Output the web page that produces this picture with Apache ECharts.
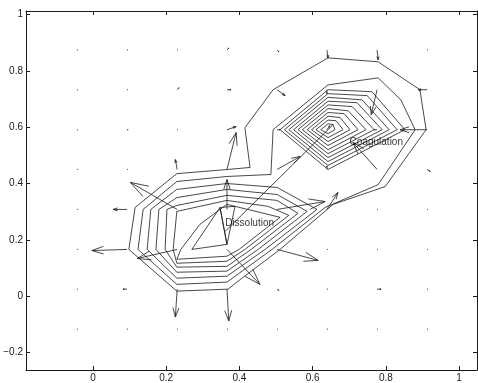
<!DOCTYPE html>
<html><head><meta charset="utf-8">
<script src="https://cdn.jsdelivr.net/npm/echarts@6/dist/echarts.min.js"></script>
<style>html,body{margin:0;padding:0;background:#fff}#c{width:478px;height:383px}</style>
</head><body><div id="c"></div>
<script>
// Axis ticks
const xTicks = [0, 0.2, 0.4, 0.6, 0.8, 1];
const yTicks = [-0.2, 0, 0.2, 0.4, 0.6, 0.8, 1];

// Quiver grid nodes
const gridX = [-0.044, 0.093, 0.230, 0.366, 0.503, 0.639, 0.776, 0.913];
const gridY = [0.874, 0.733, 0.591, 0.450, 0.308, 0.166, 0.025, -0.117];

// Vector components on the grid (row by row, top row first): [u, v]
const vecRow0 = [[0.002,0],[0.002,0],[0.002,0],[0.005,0.007],[0.005,-0.007],[0.003,-0.028],[0.003,-0.035],[0.002,0]];
const vecRow1 = [[0.002,0],[0.002,0],[0.005,0.007],[0.011,0],[0.022,-0.021],[0,-0.014],[-0.016,-0.089],[-0.025,0]];
const vecRow2 = [[0.002,0],[0.003,0],[0.002,0],[0.025,0.011],[0.008,0],[0.008,0.014],[-0.008,0],[-0.074,0]];
const vecRow3 = [[0.002,0],[0.002,0],[-0.005,0.035],[0.025,0.131],[0.063,0.046],[0,0.012],[-0.066,0.096],[0.008,-0.007]];
const vecRow4 = [[0.002,0],[-0.038,0],[-0.128,0.096],[0,0.106],[0.131,0.028],[0.030,0.060],[0.002,0],[0.002,0]];
const vecRow5 = [[0.002,0],[-0.096,-0.004],[-0.109,-0.032],[0.090,-0.124],[0.112,-0.039],[0.002,0],[0.002,0],[0.002,0]];
const vecRow6 = [[0.002,0],[-0.011,0],[-0.005,-0.099],[0.005,-0.113],[0.005,-0.005],[0.002,0],[0.011,0],[0.002,0]];
const vecRow7 = [[0.002,0],[0.002,0],[0.002,0],[0.002,0],[0.002,0],[0.002,0],[0.002,0],[0.002,0]];
const vecRows = [vecRow0, vecRow1, vecRow2, vecRow3, vecRow4, vecRow5, vecRow6, vecRow7];

// Contour lines: the two outer levels surround both regions
const levelOuter = [[0.369,0.450],[0.429,0.457],[0.415,0.598],[0.492,0.733],[0.642,0.846],[0.779,0.832],[0.893,0.733],[0.910,0.591],[0.798,0.389],[0.656,0.326],[0.511,0.166],[0.396,0.053],[0.369,0.025],[0.229,0.018],[0.098,0.166],[0.115,0.315],[0.229,0.435],[0.369,0.450]];
const levelSecond = [[0.366,0.425],[0.486,0.432],[0.492,0.591],[0.642,0.750],[0.779,0.775],[0.841,0.697],[0.880,0.591],[0.779,0.396],[0.634,0.315],[0.489,0.166],[0.366,0.050],[0.229,0.042],[0.123,0.166],[0.137,0.308],[0.229,0.407],[0.366,0.425]];
// Dissolution levels
const levelD2 = [[0.366,0.400],[0.503,0.386],[0.612,0.308],[0.470,0.166],[0.366,0.071],[0.229,0.064],[0.148,0.166],[0.158,0.308],[0.229,0.379],[0.366,0.400]];
const levelD3 = [[0.366,0.379],[0.503,0.361],[0.585,0.301],[0.451,0.166],[0.366,0.089],[0.229,0.085],[0.172,0.166],[0.180,0.308],[0.229,0.350],[0.366,0.379]];
const levelD4 = [[0.366,0.358],[0.503,0.340],[0.560,0.294],[0.432,0.166],[0.366,0.106],[0.229,0.103],[0.197,0.166],[0.202,0.308],[0.229,0.322],[0.366,0.358]];
const levelD5 = [[0.366,0.340],[0.478,0.319],[0.535,0.287],[0.415,0.166],[0.366,0.124],[0.229,0.117],[0.219,0.166],[0.229,0.301],[0.366,0.340]];
const levelD6 = [[0.366,0.326],[0.511,0.280],[0.399,0.166],[0.366,0.142],[0.229,0.131],[0.240,0.166],[0.292,0.255],[0.366,0.326]];
const levelD7 = [[0.270,0.166],[0.347,0.315],[0.366,0.184],[0.270,0.166]];
const levelD8 = [[0.347,0.315],[0.388,0.319],[0.366,0.184],[0.347,0.315]];
// Coagulation levels
const levelC1 = [[0.511,0.591],[0.642,0.733],[0.762,0.726],[0.852,0.591],[0.642,0.450],[0.511,0.591]];
const levelC2 = [[0.523,0.591],[0.642,0.719],[0.749,0.712],[0.831,0.591],[0.642,0.464],[0.523,0.591]];
const levelC3 = [[0.535,0.591],[0.642,0.706],[0.735,0.697],[0.809,0.591],[0.642,0.478],[0.535,0.591]];
const levelC4 = [[0.548,0.591],[0.642,0.692],[0.721,0.687],[0.790,0.591],[0.642,0.492],[0.548,0.591]];
const levelC5 = [[0.560,0.591],[0.642,0.679],[0.708,0.673],[0.768,0.591],[0.642,0.506],[0.560,0.591]];
const levelC6 = [[0.572,0.591],[0.642,0.666],[0.697,0.658],[0.746,0.591],[0.642,0.520],[0.572,0.591]];
const levelC7 = [[0.585,0.591],[0.642,0.652],[0.686,0.648],[0.724,0.591],[0.642,0.535],[0.585,0.591]];
const levelC8 = [[0.597,0.591],[0.642,0.639],[0.675,0.634],[0.702,0.591],[0.642,0.549],[0.597,0.591]];
const levelC9 = [[0.609,0.591],[0.642,0.625],[0.664,0.623],[0.683,0.591],[0.642,0.563],[0.609,0.591]];
const levelC10 = [[0.622,0.591],[0.642,0.612],[0.656,0.609],[0.661,0.591],[0.642,0.577],[0.622,0.591]];
// Transfer path between the two regions
const transferPath = [[0.361,0.230],[0.656,0.609]];

const contours = [levelOuter, levelSecond, levelD2, levelD3, levelD4, levelD5, levelD6, levelD7, levelD8,
  levelC1, levelC2, levelC3, levelC4, levelC5, levelC6, levelC7, levelC8, levelC9, levelC10, transferPath];

// Region annotations
const noteNames = ['Dissolution', 'Coagulation'];
const noteX = [0.361, 0.701];
const noteY = [0.258, 0.547];

const arrowData = [];
gridY.forEach((y, r) => gridX.forEach((x, c) => {
  const uv = vecRows[r][c];
  arrowData.push([x, y, uv[0], uv[1]]);
}));

const chart = echarts.init(document.getElementById('c'), null, {renderer: 'canvas'});
const ink = '#1a1a1a';
const fmt = v => (v < 0 ? '\u2212' + String(-v) : String(v));
const xMin = -0.183, xMax = 1.049, yMin = -0.262, yMax = 1.0124;

function axisBase(extra) {
  return Object.assign({
    type: 'value', splitLine: {show: false},
    axisLine: {show: true, onZero: false, lineStyle: {color: ink, width: 1}},
  }, extra);
}

chart.setOption({
  animation: false,
  backgroundColor: '#fff',
  grid: {left: 26, right: 1, top: 11, bottom: 12, containLabel: false},
  xAxis: [
    axisBase({min: xMin, max: xMax, position: 'bottom',
      axisTick: {show: true, inside: true, length: 4, customValues: xTicks, lineStyle: {color: ink}},
      axisLabel: {show: true, customValues: xTicks, formatter: fmt, fontSize: 10, color: ink, margin: 3, fontFamily: 'Liberation Sans, Arial, sans-serif'}}),
    axisBase({min: xMin, max: xMax, position: 'top',
      axisTick: {show: true, inside: true, length: 4, customValues: xTicks, lineStyle: {color: ink}},
      axisLabel: {show: false}})
  ],
  yAxis: [
    axisBase({min: yMin, max: yMax, position: 'left',
      axisTick: {show: true, inside: true, length: 4, customValues: yTicks, lineStyle: {color: ink}},
      axisLabel: {show: true, customValues: yTicks, formatter: fmt, fontSize: 10, color: ink, margin: 3, fontFamily: 'Liberation Sans, Arial, sans-serif'}}),
    axisBase({min: yMin, max: yMax, position: 'right',
      axisTick: {show: true, inside: true, length: 4, customValues: yTicks, lineStyle: {color: ink}},
      axisLabel: {show: false}})
  ],
  series: [
    {
      type: 'lines', coordinateSystem: 'cartesian2d', polyline: true, silent: true,
      lineStyle: {color: ink, width: 0.8, opacity: 1},
      data: contours.map(c => ({coords: c}))
    },
    {
      type: 'custom', silent: true,
      data: arrowData,
      renderItem: function (params, api) {
        const p0 = api.coord([api.value(0), api.value(1)]);
        const p1 = api.coord([api.value(0) + api.value(2), api.value(1) + api.value(3)]);
        const du = p1[0] - p0[0], dv = p1[1] - p0[1];
        const a = 0.33, b = 0.33;
        const h1 = [p1[0] - a * (du + b * dv), p1[1] - a * (dv - b * du)];
        const h2 = [p1[0] - a * (du - b * dv), p1[1] - a * (dv + b * du)];
        const st = {stroke: ink, lineWidth: 0.8, fill: null};
        return {type: 'group', children: [
          {type: 'line', shape: {x1: p0[0], y1: p0[1], x2: p1[0], y2: p1[1]}, style: st},
          {type: 'polyline', shape: {points: [h1, p1, h2]}, style: st}
        ]};
      }
    },
    {
      type: 'scatter', symbolSize: 0, silent: true,
      data: noteNames.map((n, i) => ({name: n, value: [noteX[i], noteY[i]]})),
      label: {show: true, position: 'right', distance: 0, formatter: '{b}', fontSize: 10, color: '#000', fontFamily: 'Liberation Sans, Arial, sans-serif'}
    }
  ]
});
</script>
</body></html>
